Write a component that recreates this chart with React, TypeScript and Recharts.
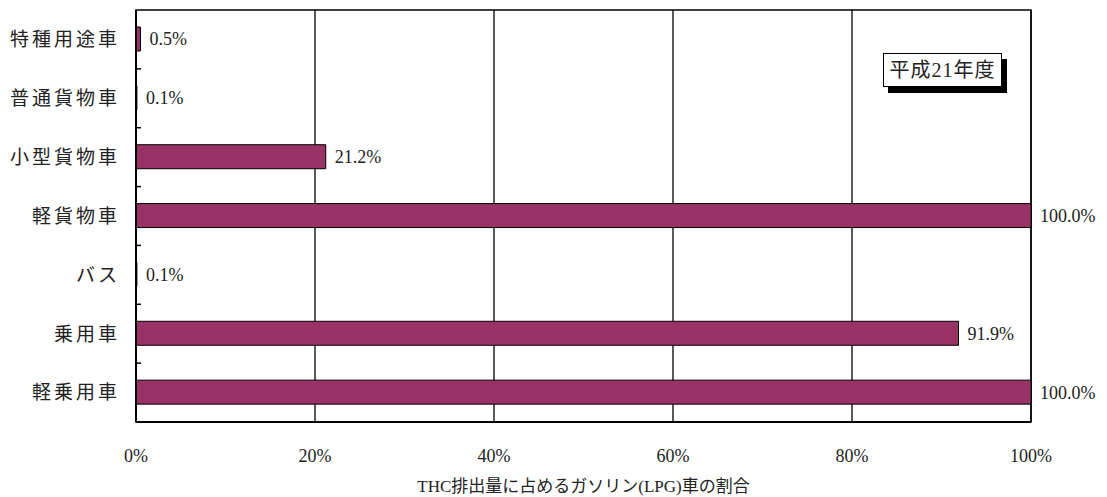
import React from 'react';
import { BarChart, Bar, XAxis, YAxis, CartesianGrid, LabelList, ReferenceArea } from 'recharts';

const categories = ['特種用途車', '普通貨物車', '小型貨物車', '軽貨物車', 'バス', '乗用車', '軽乗用車'];
const values = [0.5, 0.1, 21.2, 100.0, 0.1, 91.9, 100.0];
const xTicks = [0, 20, 40, 60, 80, 100];
const yearLabel = '平成21年度';
const axisTitle = 'THC排出量に占めるガソリン(LPG)車の割合';

const data = categories.map((name, i) => ({ name, value: values[i] }));

const FONT = "'Liberation Serif', 'Noto Sans CJK JP', serif";
const Y_TICK_MARGIN = 16;
const BOUNDARY_TICK = 5;

function CategoryTick(props: any) {
  const { x, y, payload, index, visibleTicksCount } = props;
  const axisX = x + Y_TICK_MARGIN;
  const half = payload && payload.offset ? payload.offset : 0;
  return (
    <g>
      <text
        x={x}
        y={y}
        dy="0.36em"
        textAnchor="end"
        fill="#222"
        fontSize={19}
        fontFamily={FONT}
        letterSpacing={3}
      >
        {payload.value}
      </text>
      {index < visibleTicksCount - 1 && half > 0 ? (
        <line x1={axisX} x2={axisX + BOUNDARY_TICK} y1={y + half} y2={y + half} stroke="#000" strokeWidth={1.5} />
      ) : null}
    </g>
  );
}

export default function App() {
  return (
    <div style={{ position: 'absolute', left: 0, top: 0, width: 1107, height: 497, background: '#fff', fontFamily: FONT }}>
      <BarChart
        width={1107}
        height={497}
        data={data}
        layout="vertical"
        margin={{ top: 10, right: 76, bottom: 0, left: 0 }}
        barCategoryGap={0}
      >
        <CartesianGrid horizontal={false} vertical stroke="#000" strokeWidth={1.3} />
        <XAxis
          type="number"
          domain={[0, 100]}
          ticks={xTicks}
          tickFormatter={(v: number) => `${v}%`}
          tickLine={false}
          tickSize={0}
          tickMargin={27}
          axisLine={{ stroke: '#000', strokeWidth: 2 }}
          height={75}
          tick={{ fill: '#222', fontSize: 18, fontFamily: FONT }}
          label={{ value: axisTitle, position: 'insideBottom', offset: 5, fill: '#222', fontSize: 17, fontFamily: FONT }}
        />
        <YAxis
          type="category"
          dataKey="name"
          width={136}
          tickLine={false}
          tickSize={0}
          tickMargin={Y_TICK_MARGIN}
          interval={0}
          axisLine={{ stroke: '#000', strokeWidth: 2 }}
          tick={<CategoryTick />}
        />
        <ReferenceArea x1={0} x2={100} fill="none" stroke="#000" strokeWidth={1.5} />
        <Bar
          dataKey="value"
          fill="#993366"
          stroke="#000"
          strokeWidth={1}
          barSize={24}
          isAnimationActive={false}
        >
          <LabelList
            dataKey="value"
            position="right"
            offset={9}
            formatter={(v: number) => `${v.toFixed(1)}%`}
            fill="#222"
            fontSize={18}
            fontFamily={FONT}
          />
        </Bar>
      </BarChart>
      <div
        style={{
          position: 'absolute',
          left: 883,
          top: 53,
          width: 117,
          height: 32,
          border: '1px solid #000',
          background: '#fff',
          boxShadow: '5px 6px 0 #000',
          fontSize: 20,
          letterSpacing: 1,
          lineHeight: '32px',
          textAlign: 'center',
          color: '#222',
          fontFamily: FONT,
          whiteSpace: 'nowrap',
        }}
      >
        {yearLabel}
      </div>
    </div>
  );
}
